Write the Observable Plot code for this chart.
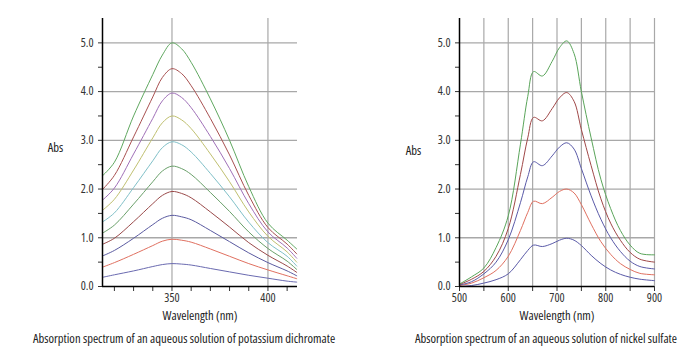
<!DOCTYPE html>
<html>
<head>
<meta charset="utf-8">
<script src="https://cdn.jsdelivr.net/npm/d3@7"></script>
<script src="https://cdn.jsdelivr.net/npm/@observablehq/plot@0.6"></script>
<style>
  body { margin: 0; background: #fff; }
  #wrap { position: relative; width: 700px; height: 360px; overflow: hidden;
          font-family: "Open Sans", "Roboto", sans-serif; font-stretch: 75%; font-weight: 400; }
  #wrap svg, #wrap svg text { font-stretch: 75%; font-weight: 400; }
  .panel { position: absolute; top: 0; }
  .cap { position: absolute; top: 330px; font-size: 12.6px; color: #222; white-space: nowrap;
         transform: translateX(-50%); }
</style>
</head>
<body>
<div id="wrap">
  <div class="panel" id="p1" style="left:0px"></div>
  <div class="panel" id="p2" style="left:350px"></div>
  <div class="cap" style="left:184px">Absorption spectrum of an aqueous solution of potassium dichromate</div>
  <div class="cap" style="left:546px">Absorption spectrum of an aqueous solution of nickel sulfate</div>
</div>
<script>
// ---------- Left chart: potassium dichromate ----------
const dichWavelengths = [314, 320, 330, 340, 345, 350, 355, 360, 370, 380, 390, 400, 410, 415];
const dich1  = [0.19, 0.24, 0.32, 0.41, 0.45, 0.47, 0.46, 0.44, 0.37, 0.30, 0.23, 0.17, 0.11, 0.09];
const dich2  = [0.40, 0.49, 0.66, 0.84, 0.93, 0.97, 0.95, 0.91, 0.77, 0.62, 0.47, 0.34, 0.22, 0.16];
const dich3  = [0.63, 0.74, 0.99, 1.27, 1.40, 1.46, 1.43, 1.37, 1.15, 0.92, 0.69, 0.49, 0.32, 0.22];
const dich4  = [0.87, 0.99, 1.33, 1.70, 1.87, 1.95, 1.91, 1.82, 1.53, 1.22, 0.90, 0.64, 0.42, 0.29];
const dich5  = [1.10, 1.26, 1.69, 2.15, 2.37, 2.47, 2.42, 2.30, 1.93, 1.54, 1.12, 0.78, 0.52, 0.35];
const dich6  = [1.33, 1.51, 2.03, 2.58, 2.85, 2.97, 2.91, 2.76, 2.32, 1.84, 1.32, 0.90, 0.62, 0.42];
const dich7  = [1.57, 1.79, 2.39, 3.05, 3.36, 3.50, 3.42, 3.24, 2.72, 2.15, 1.53, 1.03, 0.71, 0.50];
const dich8  = [1.78, 2.02, 2.72, 3.45, 3.81, 3.97, 3.88, 3.67, 3.08, 2.42, 1.70, 1.12, 0.79, 0.58];
const dich9  = [2.00, 2.28, 3.07, 3.89, 4.29, 4.47, 4.37, 4.12, 3.45, 2.70, 1.87, 1.21, 0.87, 0.67];
const dich10 = [2.28, 2.55, 3.50, 4.35, 4.75, 5.00, 4.88, 4.60, 3.85, 3.00, 2.05, 1.30, 0.95, 0.77];
const dichSeries = [dich1, dich2, dich3, dich4, dich5, dich6, dich7, dich8, dich9, dich10];
const dichColors = ["#6a6ab0", "#e07060", "#5a5aa0", "#9a4a4a", "#6aa06a",
                    "#80c0c8", "#c0c070", "#a070b8", "#a85050", "#60a860"];
const dichXTicks = [320, 330, 340, 350, 360, 370, 380, 390, 400, 410];
const dichXLabels = [350, 400];
const dichXGrid = [350, 400];

// ---------- Right chart: nickel sulfate ----------
const niWavelengths = [500, 525, 550, 575, 600, 625, 640, 652, 670, 690, 705, 720, 735, 750, 770, 790, 810, 830, 850, 870, 900];
const ni1 = [0.00, 0.02, 0.07, 0.14, 0.26, 0.55, 0.74, 0.85, 0.82, 0.88, 0.95, 0.99, 0.95, 0.84, 0.64, 0.47, 0.34, 0.25, 0.19, 0.15, 0.12];
const ni2 = [0.02, 0.07, 0.18, 0.33, 0.62, 1.15, 1.52, 1.75, 1.70, 1.83, 1.95, 2.00, 1.92, 1.68, 1.28, 0.92, 0.66, 0.47, 0.35, 0.27, 0.24];
const ni3 = [0.03, 0.10, 0.26, 0.50, 0.96, 1.72, 2.25, 2.56, 2.48, 2.68, 2.86, 2.95, 2.82, 2.42, 1.86, 1.38, 1.00, 0.72, 0.52, 0.41, 0.36];
const ni4 = [0.04, 0.15, 0.31, 0.62, 1.19, 2.30, 3.05, 3.47, 3.40, 3.65, 3.87, 3.98, 3.80, 3.22, 2.48, 1.80, 1.30, 0.95, 0.70, 0.56, 0.50];
const ni5 = [0.05, 0.20, 0.38, 0.80, 1.45, 2.92, 3.90, 4.41, 4.32, 4.62, 4.90, 5.04, 4.78, 4.00, 3.05, 2.20, 1.60, 1.15, 0.85, 0.68, 0.65];
const niSeries = [ni1, ni2, ni3, ni4, ni5];
const niColors = ["#5a5aa8", "#e07060", "#5a5aa8", "#a04848", "#5aa55a"];
const niXTicks = [500, 550, 600, 650, 700, 750, 800, 850, 900];
const niXLabels = [500, 600, 700, 800, 900];
const niXGrid = [550, 600, 650, 700, 750, 800, 850, 900];

const yTicks = [0, 0.5, 1, 1.5, 2, 2.5, 3, 3.5, 4, 4.5, 5];
const yLabels = [0, 1, 2, 3, 4, 5];
const yGrid = [1, 2, 3, 4, 5];

const FONT = '"Open Sans", "Roboto", sans-serif';

function spectrum({wavelengths, series, colors, xDomain, width, marginLeft, marginRight,
                   xTicks, xLabels, xGrid, absDx, absDy}) {
  const rows = [];
  series.forEach((vals, i) => vals.forEach((v, j) => rows.push({id: i, wl: wavelengths[j], abs: v})));
  return Plot.plot({
    width, height: 326,
    marginLeft, marginRight, marginTop: 18, marginBottom: 40,
    style: {fontFamily: FONT, fontSize: "12px", color: "#333", background: "#fff", overflow: "visible"},
    x: {domain: xDomain},
    y: {domain: [0, 5.5]},
    color: {domain: series.map((_, i) => i), range: colors},
    marks: [
      Plot.gridY(yGrid, {stroke: "#a8a8a8", strokeOpacity: 1, strokeWidth: 1.3}),
      Plot.gridX(xGrid, {stroke: "#a8a8a8", strokeOpacity: 1, strokeWidth: 1.2}),
      Plot.line(rows, {x: "wl", y: "abs", z: "id", stroke: "id", strokeWidth: 1, curve: "catmull-rom"}),
      Plot.axisY({ticks: yTicks, tickSize: 4, tickPadding: 5, label: null, fontSize: 12,
                  tickFormat: d => yLabels.includes(d) ? d.toFixed(1) : ""}),
      Plot.axisX({ticks: xTicks, tickSize: 5, tickPadding: 2, label: null, fontSize: 12,
                  tickFormat: d => xLabels.includes(d) ? String(d) : ""}),
      Plot.ruleX([xDomain[0]], {stroke: "#000", strokeWidth: 1.5}),
      Plot.ruleY([0], {stroke: "#000", strokeWidth: 1.5}),
      Plot.text(["Abs"], {frameAnchor: "left", dx: absDx, dy: absDy, textAnchor: "middle", fill: "#222", fontSize: 12.6}),
      Plot.text(["Wavelength (nm)"], {frameAnchor: "bottom", dy: 33, textAnchor: "middle", fill: "#222", fontSize: 12.6})
    ]
  });
}

document.getElementById("p1").append(spectrum({
  wavelengths: dichWavelengths, series: dichSeries, colors: dichColors,
  xDomain: [313.8, 415.4], width: 340, marginLeft: 102, marginRight: 43,
  xTicks: dichXTicks, xLabels: dichXLabels, xGrid: dichXGrid, absDx: -47, absDy: -5
}));
document.getElementById("p2").append(spectrum({
  wavelengths: niWavelengths, series: niSeries, colors: niColors,
  xDomain: [500, 900], width: 350, marginLeft: 109, marginRight: 46,
  xTicks: niXTicks, xLabels: niXLabels, xGrid: niXGrid, absDx: -46, absDy: -2
}));
</script>
</body>
</html>
